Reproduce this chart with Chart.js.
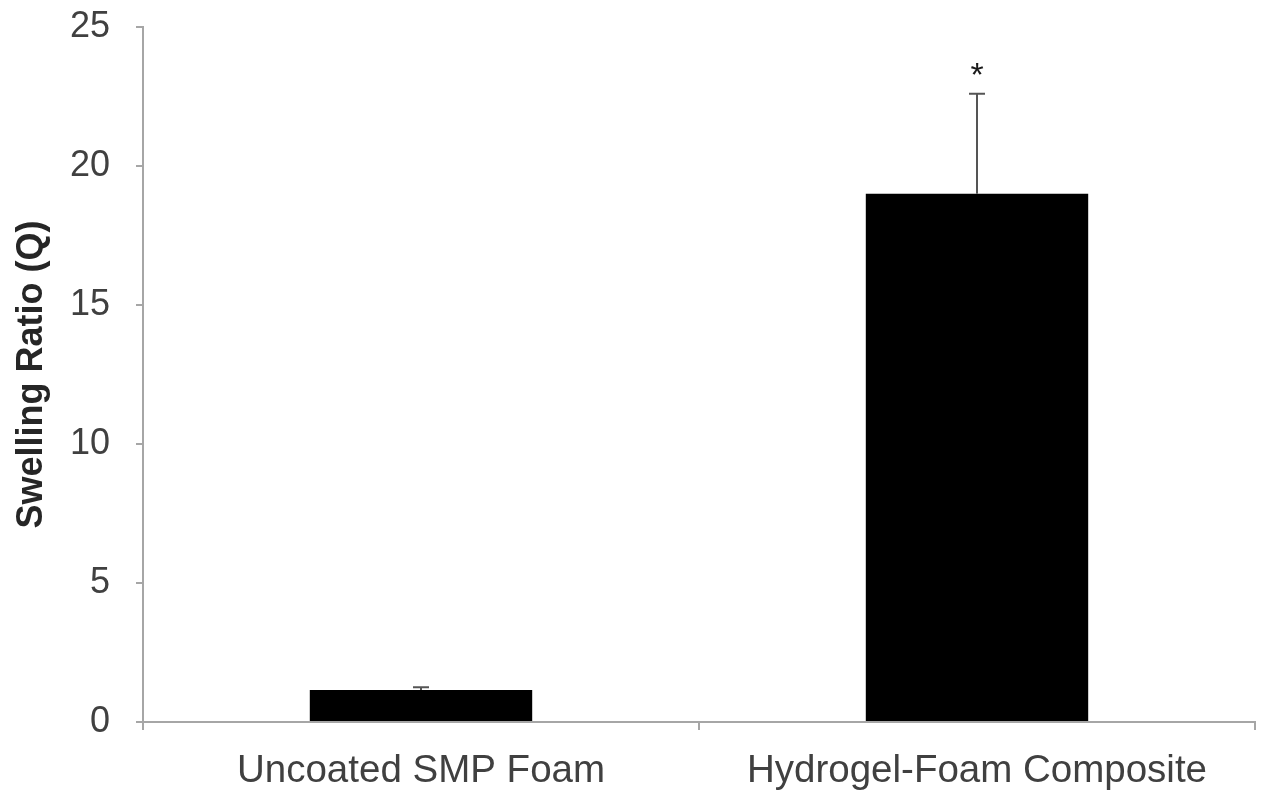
<!DOCTYPE html>
<html>
<head>
<meta charset="utf-8">
<script src="https://cdn.jsdelivr.net/npm/chart.js@4"></script>
<style>
  html, body { margin: 0; padding: 0; background: #fff; }
  #wrap { width: 1270px; height: 793px; }
</style>
</head>
<body>
<div id="wrap"><canvas id="myChart" width="1270" height="793"></canvas></div>
<script>
// data
const categories = ["Uncoated SMP Foam", "Hydrogel-Foam Composite"];
const swelling = [1.15, 19.0];
const swellingErr = [0.1, 3.6];
const significance = ["", "*"];
const yTicks = [0, 5, 10, 15, 20, 25];

// one-sided error bars (top cap only) plus significance marks
const errorBars = {
  id: "errorBars",
  afterDatasetsDraw(chart) {
    const { ctx, scales: { x, y } } = chart;
    ctx.save();
    swelling.forEach((v, i) => {
      const cx = x.getPixelForValue(i);
      const yTop = y.getPixelForValue(v + swellingErr[i]);
      const yBar = y.getPixelForValue(v);
      ctx.strokeStyle = "#555555";
      ctx.lineWidth = 2;
      ctx.beginPath();
      ctx.moveTo(cx, yBar);
      ctx.lineTo(cx, yTop);
      ctx.moveTo(cx - 8, yTop);
      ctx.lineTo(cx + 8, yTop);
      ctx.stroke();
      if (significance[i]) {
        ctx.fillStyle = "#1a1a1a";
        ctx.font = "34px 'Liberation Sans', Arial, sans-serif";
        ctx.textAlign = "center";
        ctx.textBaseline = "bottom";
        ctx.fillText(significance[i], cx, yTop);
      }
    });
    ctx.restore();
  }
};

const ctx = document.getElementById("myChart").getContext("2d");
new Chart(ctx, {
  type: "bar",
  data: {
    labels: categories,
    datasets: [{
      label: "Swelling Ratio",
      data: swelling,
      backgroundColor: "#000000",
      borderWidth: 0,
      categoryPercentage: 1.0,
      barPercentage: 0.4
    }]
  },
  options: {
    responsive: false,
    animation: false,
    layout: { padding: { top: 27, right: 15, left: 0, bottom: 0 } },
    plugins: { legend: { display: false }, tooltip: { enabled: false } },
    scales: {
      x: {
        afterFit: (s) => { s.height = 71; s.paddingLeft = 0; s.paddingRight = 0; },
        border: { color: "#a6a6a6", width: 2 },
        grid: { drawOnChartArea: false, tickLength: 8, color: "#a6a6a6", lineWidth: 2 },
        ticks: {
          color: "#404040",
          padding: 18,
          font: { family: "'Liberation Sans', Arial, sans-serif", size: 38.5 }
        }
      },
      y: {
        min: 0,
        max: 25,
        afterFit: (s) => { s.width = 143; s.paddingTop = 0; s.paddingBottom = 0; },
        afterBuildTicks: (s) => { s.ticks = yTicks.map((v) => ({ value: v })); },
        border: { color: "#a6a6a6", width: 2 },
        grid: { drawOnChartArea: false, tickLength: 7, color: "#a6a6a6", lineWidth: 2 },
        ticks: {
          color: "#404040",
          padding: 26,
          font: { family: "'Liberation Sans', Arial, sans-serif", size: 36 }
        },
        title: {
          display: true,
          text: "Swelling Ratio (Q)",
          color: "#262626",
          padding: { top: 10, bottom: 0 },
          font: { family: "'Liberation Sans', Arial, sans-serif", size: 36, weight: "bold" }
        }
      }
    }
  },
  plugins: [errorBars]
});
</script>
</body>
</html>
